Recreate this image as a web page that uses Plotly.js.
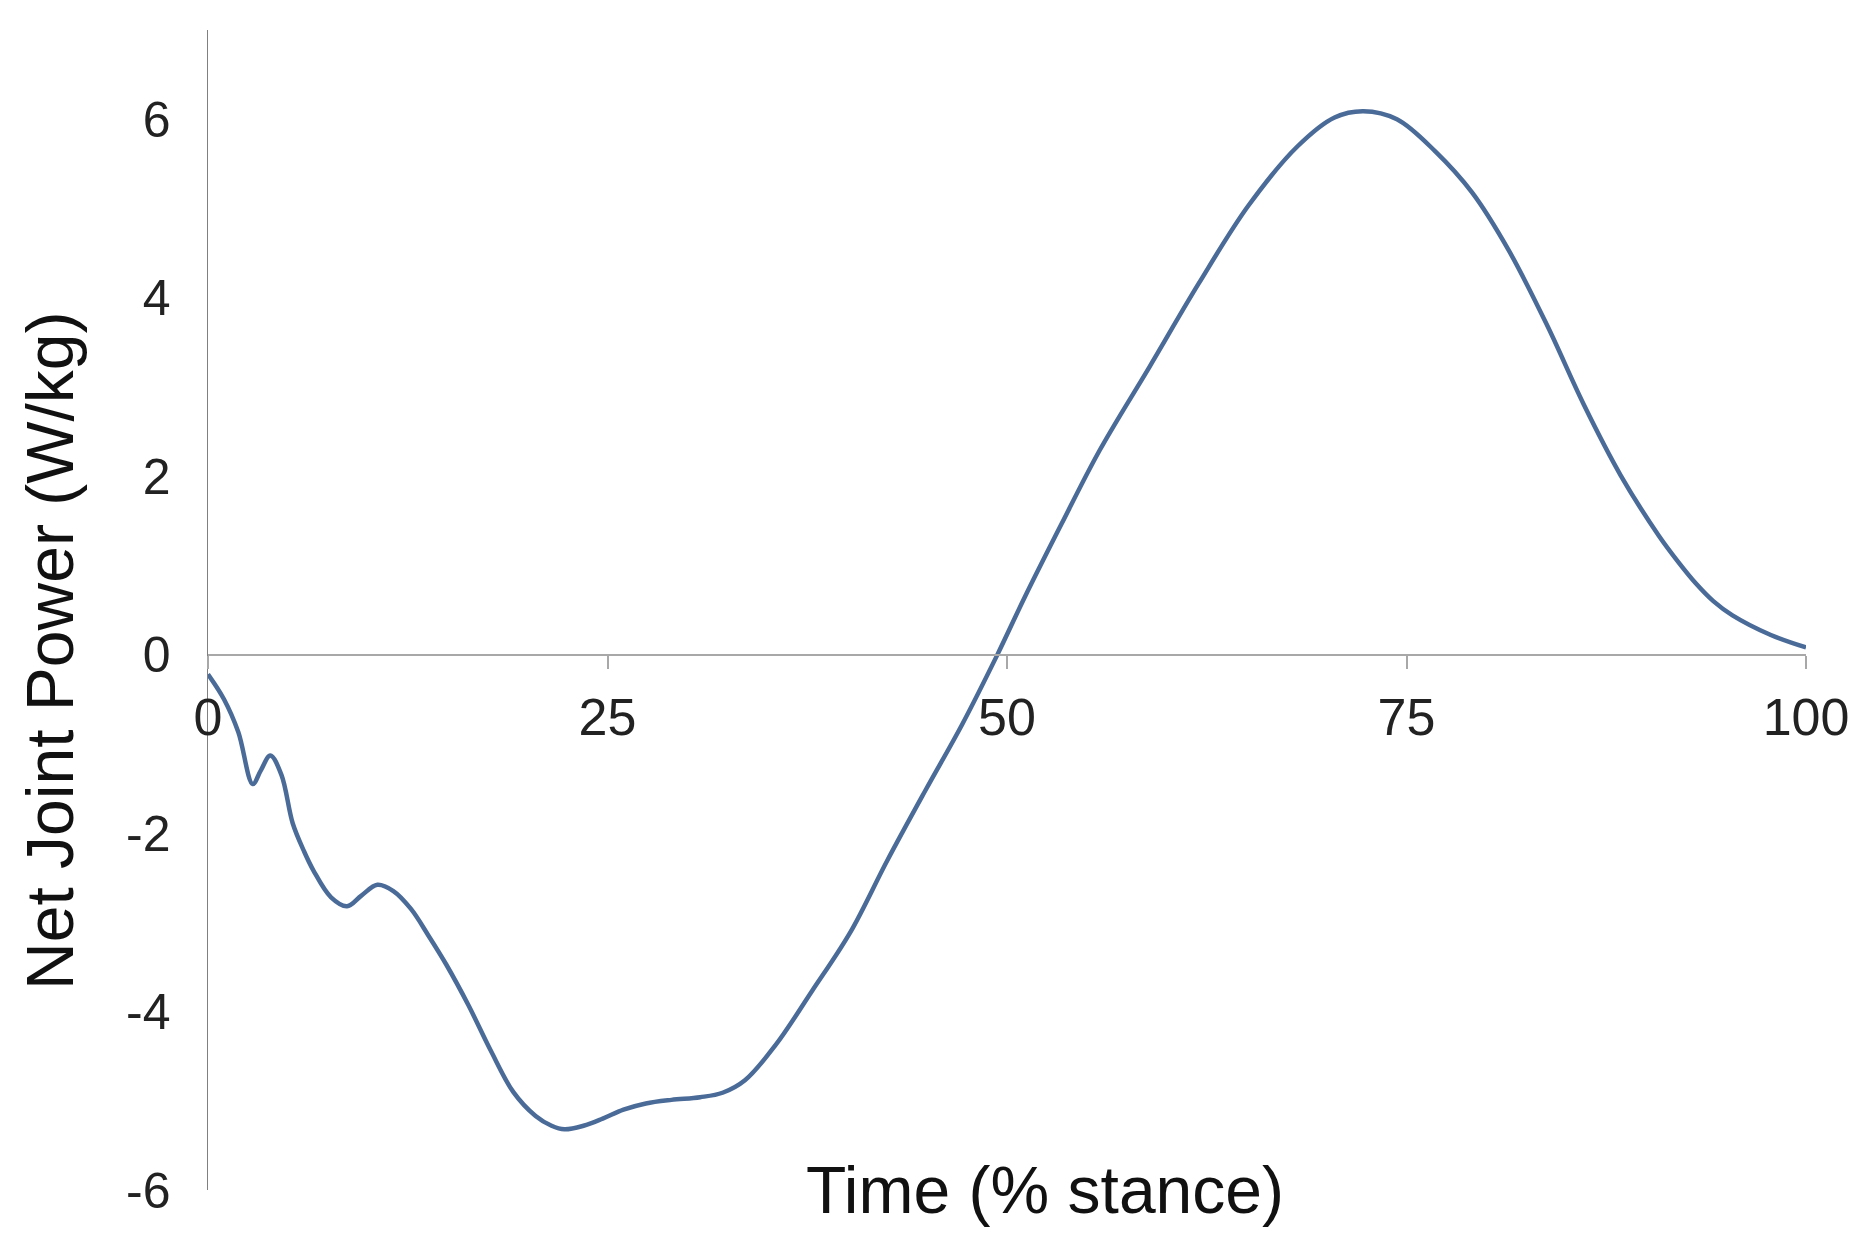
<!DOCTYPE html>
<html>
<head>
<meta charset="utf-8">
<script src="https://cdn.plot.ly/plotly-3.0.1.min.js"></script>
<style>
  html, body { margin: 0; padding: 0; background: #fff; }
  #chart { width: 1875px; height: 1254px; }
</style>
</head>
<body>
<div id="chart"></div>
<script>
  // Net joint power over stance
  var timePct = [0, 1, 1.9, 2.8, 3.3, 3.9, 4.6, 5.3, 6.0, 6.6, 7.7, 8.7, 9.6, 10.6, 11.6, 12.7, 13.8, 14.9,
    16.3, 17.7, 19.1, 20.5, 21.5, 22.3, 23.5, 24.7, 26, 27.4, 29, 30.8, 32.2, 33.6, 35.5, 37.8, 40.2, 42.5,
    44.9, 47.2, 49.4, 51.1, 53.4, 55.8, 58.9, 62.0, 65.1, 68.2, 70.5, 72.3, 74.4, 76.8, 79.1, 81.4, 83.8,
    86.1, 88.4, 90.8, 92.0, 93.1, 94.2, 95.4, 97.8, 100];
  var power = [-0.22, -0.5, -0.87, -1.45, -1.3, -1.13, -1.35, -1.89, -2.2, -2.42, -2.72, -2.82, -2.7, -2.58,
    -2.65, -2.85, -3.15, -3.47, -3.93, -4.44, -4.9, -5.17, -5.28, -5.32, -5.28, -5.2, -5.1, -5.03, -4.99,
    -4.96, -4.91, -4.77, -4.38, -3.77, -3.11, -2.31, -1.52, -0.78, 0, 0.64, 1.46, 2.29, 3.22, 4.16, 5.03,
    5.70, 6.02, 6.09, 6.0, 5.64, 5.18, 4.53, 3.69, 2.80, 2.01, 1.33, 1.04, 0.80, 0.60, 0.44, 0.22, 0.08];

  var xTicks = [0, 25, 50, 75, 100];
  var yTicks = [-6, -4, -2, 0, 2, 4, 6];
  var xTitle = "Time (% stance)";
  var yTitle = "Net Joint Power (W/kg)";

  var font = "Liberation Sans, Arial, sans-serif";

  var trace = {
    x: timePct, y: power, mode: "lines", type: "scatter",
    line: { color: "#4a6b98", width: 4.5, shape: "spline", smoothing: 1 },
    hoverinfo: "skip", showlegend: false
  };

  var layout = {
    width: 1875, height: 1254,
    paper_bgcolor: "#ffffff", plot_bgcolor: "#ffffff",
    margin: { l: 208, r: 69, t: 30, b: 64 },
    font: { family: font, color: "#222" },
    xaxis: {
      range: [0, 100], tickvals: xTicks, ticktext: xTicks.map(String),
      anchor: "free", position: 6 / 13,
      showline: true, linecolor: "#a8a8a8", linewidth: 2.5,
      ticks: "outside", ticklen: 13, tickwidth: 2, tickcolor: "#a8a8a8",
      ticklabelstandoff: 3,
      showgrid: false, zeroline: false,
      tickfont: { size: 52, family: font, color: "#222" }
    },
    yaxis: {
      range: [-6, 7], tickvals: yTicks, ticktext: yTicks.map(String),
      showline: true, linecolor: "#808080", linewidth: 1.5,
      ticks: "", ticklabelstandoff: 26,
      showgrid: false, zeroline: false,
      tickfont: { size: 50, family: font, color: "#222" }
    },
    annotations: [
      { text: xTitle, xref: "x", yref: "paper", x: 52.4, y: 0, xanchor: "center", yanchor: "middle",
        showarrow: false, font: { size: 66, family: font, color: "#111" } },
      { text: yTitle, xref: "paper", yref: "y", x: -0.099, y: 0.05, xanchor: "center", yanchor: "middle",
        textangle: -90, showarrow: false, font: { size: 66, family: font, color: "#111" } }
    ]
  };

  Plotly.newPlot("chart", [trace], layout, { staticPlot: true, displayModeBar: false });
</script>
</body>
</html>
